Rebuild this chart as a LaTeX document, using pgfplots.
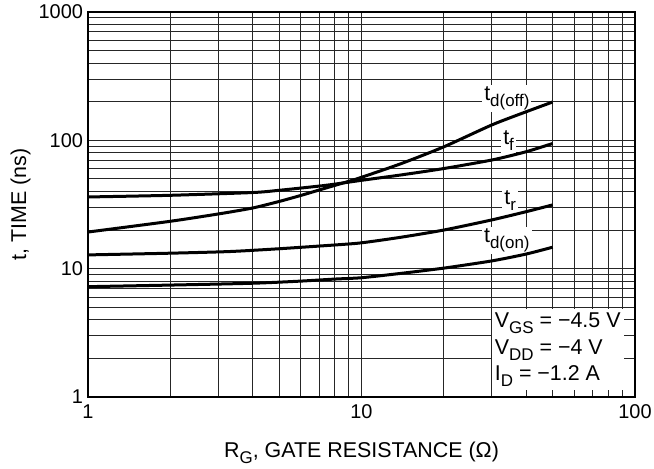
\documentclass[border=0pt]{standalone}
\usepackage{fontspec}
\setmainfont{Liberation Sans}
\usepackage{pgfplots}
\pgfplotsset{compat=1.18}
\newcommand{\sub}[1]{\raisebox{-0.28em}{\fontsize{17}{17}\selectfont #1}}
\begin{document}
\begin{tikzpicture}
\useasboundingbox (-88bp,-72bp) rectangle (566bp,397bp);
\begin{axis}[
  at={(0,0)}, anchor=south west,
  xmode=log, ymode=log,
  scale only axis, width=547bp, height=385bp,
  xmin=1, xmax=100, ymin=1, ymax=1000,
  xtick={1,10,100}, xticklabels={1,10,100},
  ytick={1,10,100,1000}, yticklabels={1,10,100,1000},
  minor xtick={2,3,4,5,6,7,8,9,20,30,40,50,60,70,80,90},
  minor ytick={2,3,4,5,6,7,8,9,20,30,40,50,60,70,80,90,200,300,400,500,600,700,800,900},
  grid=both,
  major grid style={line width=1bp, draw=black!85},
  minor grid style={line width=1bp, draw=black!85},
  major tick length=0pt, minor tick length=0pt,
  axis line style={line width=2bp, black},
  tick label style={font=\fontsize{20}{20}\selectfont},
  xticklabel style={yshift=-4bp},
  yticklabel style={xshift=-1.5bp},
  label style={font=\fontsize{21.5}{24}\selectfont},
  xlabel={R\sub{G}, GATE RESISTANCE (Ω)},
  ylabel={t, TIME (ns)},
  xlabel style={at={(axis description cs:0.5,-0.1584)}, anchor=base},
  ylabel style={at={(axis description cs:-0.1133,0.5)}, anchor=base},
]
% curve labels and condition box (white background, under curves)
\node[fill=white, inner sep=2bp, font=\fontsize{21.5}{24}\selectfont] at (axis cs:34,212) {t\sub{d(off)}};
\node[fill=white, inner sep=2bp, font=\fontsize{21.5}{24}\selectfont] at (axis cs:34.5,99) {t\sub{f}};
\node[fill=white, inner sep=2bp, font=\fontsize{21.5}{24}\selectfont] at (axis cs:35,34) {t\sub{r}};
\node[fill=white, inner sep=2bp, font=\fontsize{21.5}{24}\selectfont] at (axis cs:34,16.6) {t\sub{d(on)}};
\node[fill=white, anchor=south east, align=left, inner xsep=3bp, inner ysep=3bp,
      font=\fontsize{21.5}{27}\selectfont] at (axis cs:91,1.13)
  {V\sub{GS} = −4.5 V\\V\sub{DD} = −4 V\\I\sub{D} = −1.2 A};
% t_d(off)
\addplot[black, line width=3bp, smooth, tension=0.4] coordinates {
  (1,19.3) (2,23.4) (3,26.7) (4,29.7) (5,33.4) (6,37.2) (7,41) (8,44.6) (9,48)
  (10,51.5) (14,66) (20,89) (30,132) (40,167) (50,199)};
% t_f
\addplot[black, line width=3bp, smooth, tension=0.4] coordinates {
  (1,36.2) (2,37.3) (4,39.2) (5,40.8) (7,44) (8,45.6) (10,48.8) (14,53.8) (20,60.3)
  (30,70.3) (40,81.5) (50,94.5)};
% t_r
\addplot[black, line width=3bp, smooth, tension=0.4] coordinates {
  (1,12.8) (2,13.2) (3.3,13.6) (5,14.3) (8,15.3) (10,15.9) (14,17.6) (20,20)
  (30,24) (40,27.8) (50,31.4)};
% t_d(on)
\addplot[black, line width=3bp, smooth, tension=0.4] coordinates {
  (1,7.24) (2,7.45) (4,7.7) (6,8.0) (8,8.3) (10,8.5) (14,9.2) (20,10.1)
  (30,11.5) (40,13) (50,14.7)};
\end{axis}
\end{tikzpicture}
\end{document}
